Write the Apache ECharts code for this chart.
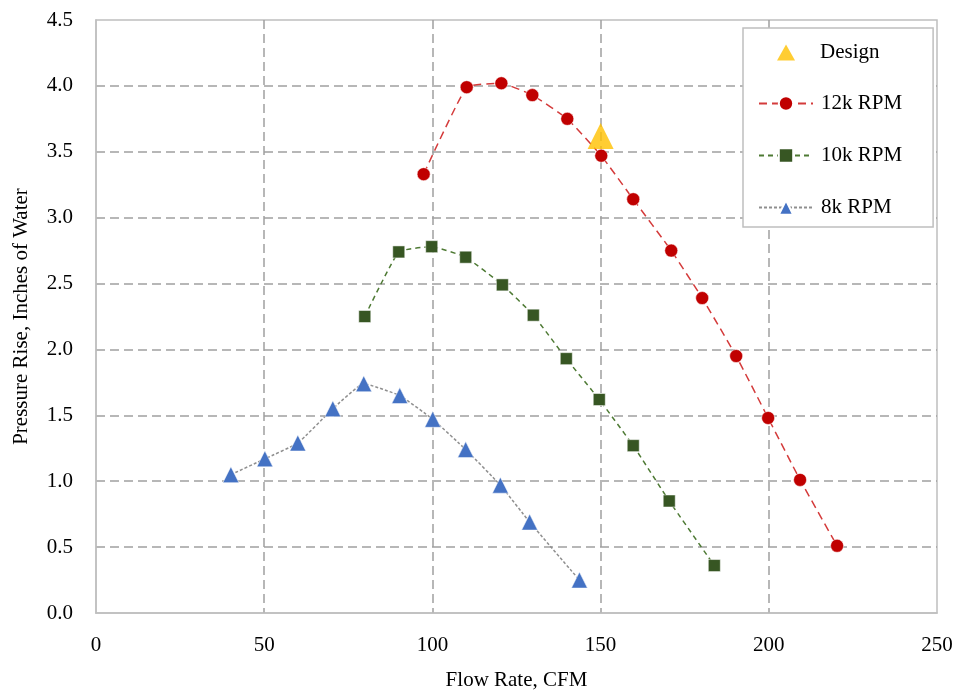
<!DOCTYPE html>
<html>
<head>
<meta charset="utf-8">
<script src="https://cdn.jsdelivr.net/npm/echarts@6/dist/echarts.min.js"></script>
<style>html,body{margin:0;padding:0;background:#fff}#c{width:961px;height:696px}</style>
</head>
<body>
<div id="c"></div>
<script>
const designX = [150];
const designY = [3.62];
const rpm12X = [97.4, 110.2, 120.5, 129.7, 140.1, 150.2, 159.7, 171.0, 180.2, 190.3, 199.8, 209.3, 220.3];
const rpm12Y = [3.33, 3.99, 4.02, 3.93, 3.75, 3.47, 3.14, 2.75, 2.39, 1.95, 1.48, 1.01, 0.51];
const rpm10X = [79.9, 90.0, 99.8, 109.9, 120.8, 130.0, 139.8, 149.6, 159.7, 170.4, 183.8];
const rpm10Y = [2.25, 2.74, 2.78, 2.70, 2.49, 2.26, 1.93, 1.62, 1.27, 0.85, 0.36];
const rpm8X = [40.1, 50.2, 60.0, 70.4, 79.6, 90.3, 100.1, 109.9, 120.2, 128.9, 143.7];
const rpm8Y = [1.05, 1.17, 1.29, 1.55, 1.74, 1.65, 1.47, 1.24, 0.97, 0.69, 0.25];
const seriesNames = ['Design', '12k RPM', '10k RPM', '8k RPM'];
const xTitle = 'Flow Rate, CFM';
const yTitle = 'Pressure Rise, Inches of Water';

const zip = (xs, ys) => xs.map((x, i) => [x, ys[i]]);
const font = 'Liberation Serif';
const gridLine = { show: true, showMinLine: false, showMaxLine: false, lineStyle: { color: '#a0a0a0', width: 1.5, type: [9, 5] } };

const chart = echarts.init(document.getElementById('c'));
chart.setOption({
  animation: false,
  backgroundColor: '#fff',
  grid: { left: 96, right: 24, top: 20, bottom: 82, show: true, borderColor: '#bfbfbf', borderWidth: 1.5 },
  xAxis: {
    type: 'value', min: 0, max: 250, interval: 50,
    name: xTitle, nameLocation: 'middle', nameGap: 57,
    nameTextStyle: { fontFamily: font, fontSize: 21, color: '#000' },
    axisLine: { show: true, lineStyle: { color: '#bfbfbf', width: 1.5 } },
    axisTick: { show: false },
    axisLabel: { fontFamily: font, fontSize: 21, color: '#000', margin: 22 },
    splitLine: gridLine
  },
  yAxis: {
    type: 'value', min: 0, max: 4.5, interval: 0.5,
    name: yTitle, nameLocation: 'middle', nameGap: 64,
    nameTextStyle: { fontFamily: font, fontSize: 21, color: '#000' },
    axisLine: { show: true, lineStyle: { color: '#bfbfbf', width: 1.5 } },
    axisTick: { show: false },
    axisLabel: { fontFamily: font, fontSize: 21, color: '#000', margin: 23, formatter: v => v.toFixed(1) },
    splitLine: gridLine
  },
  legend: [
    {
      orient: 'vertical', left: 743, top: 28, z: 4,
      data: seriesNames.slice(1),
      backgroundColor: '#fff', borderColor: '#bfbfbf', borderWidth: 1.5, borderRadius: 0,
      padding: [65, 31, 9, 15],
      itemWidth: 54, itemHeight: 18, itemGap: 31,
      textStyle: { fontFamily: font, fontSize: 21, color: '#000', lineHeight: 20, padding: [0, 0, 0, 3] }
    },
    {
      orient: 'vertical', left: 777, top: 42, z: 5,
      data: [{ name: seriesNames[0], icon: 'triangle' }],
      padding: 0,
      itemWidth: 18, itemHeight: 16,
      textStyle: { fontFamily: font, fontSize: 21, color: '#000', lineHeight: 20, padding: [0, 0, 0, 20] }
    }
  ],
  series: [
    {
      name: seriesNames[1], type: 'line', data: zip(rpm12X, rpm12Y), smooth: 0.12,
      symbol: 'circle', symbolSize: 13, z: 3,
      itemStyle: { color: '#C00000', borderColor: '#fff', borderWidth: 0.5 },
      lineStyle: { color: '#D43B3B', width: 1.5, type: [8, 5] }
    },
    {
      name: seriesNames[2], type: 'line', data: zip(rpm10X, rpm10Y), smooth: 0.12,
      symbol: 'rect', symbolSize: 12, z: 3,
      itemStyle: { color: '#375623', borderColor: '#fff', borderWidth: 0.5 },
      lineStyle: { color: '#4E7A34', width: 1.5, type: [5, 4] }
    },
    {
      name: seriesNames[3], type: 'line', data: zip(rpm8X, rpm8Y), smooth: 0.12,
      symbol: 'triangle', symbolSize: 16, z: 3,
      itemStyle: { color: '#4472C4', borderColor: '#fff', borderWidth: 0.5 },
      lineStyle: { color: '#8f8f8f', width: 1.5, type: [3, 2] }
    },
    {
      name: seriesNames[0], type: 'scatter', data: zip(designX, designY),
      symbol: 'triangle', symbolSize: 26, z: 4,
      itemStyle: { color: '#FFC000' }
    }
  ]
});
</script>
</body>
</html>
